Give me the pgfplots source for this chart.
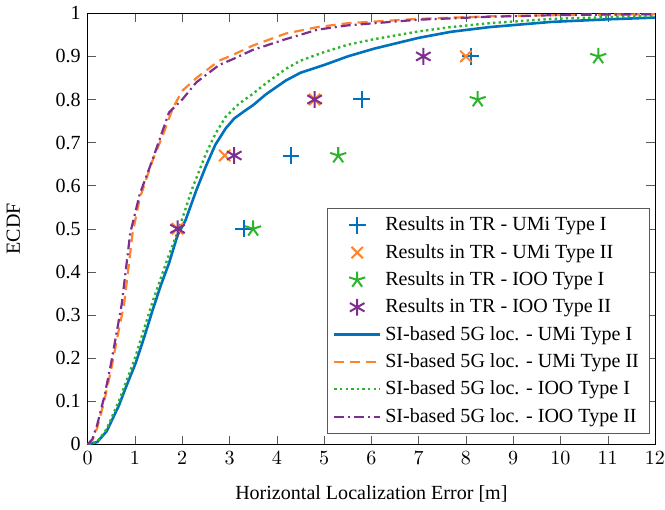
\documentclass[border=0pt]{standalone}
\usepackage{fontspec}
\setmainfont{Liberation Serif}
\usepackage{pgfplots}
\pgfplotsset{compat=1.18}

\definecolor{cblue}{RGB}{0,114,189}
\definecolor{corange}{RGB}{255,130,45}
\definecolor{cgreen}{RGB}{45,180,45}
\definecolor{cpurple}{RGB}{126,47,142}

\begin{document}
\begin{tikzpicture}
\begin{axis}[
  width=283pt, height=215pt, scale only axis,
  xmin=0, xmax=12, ymin=0, ymax=1,
  xtick={0,1,...,12},
  ytick={0,0.1,0.2,0.3,0.4,0.5,0.6,0.7,0.8,0.9,1},
  yticklabels={0,0.1,0.2,0.3,0.4,0.5,0.6,0.7,0.8,0.9,1},
  xticklabel style={inner xsep=0pt},
  tick style={gray!70!black},
  xlabel={Horizontal Localization Error [m]},
  ylabel={ECDF},
  xlabel shift=4pt,
  ylabel shift=10.8pt,
  legend cell align=left,
  legend style={at={(0.99,0.025)}, anchor=south east, draw=gray!70!black, row sep=1.2pt},
  legend image code/.code={\draw[mark repeat=2,mark phase=2] plot coordinates {(0cm,0cm)(0.4cm,0cm)(0.8cm,0cm)};},
  every axis plot/.append style={line width=1pt},
]
% TR results
\addplot[only marks, mark=+, mark size=4.2pt, cblue] coordinates {(3.3,0.5) (4.3,0.67) (5.8,0.8) (8.1,0.9)};
\addplot[only marks, mark=x, mark size=4pt, corange] coordinates {(1.9,0.5) (2.9,0.67) (4.8,0.8) (8.0,0.9)};
\addplot[only marks, mark=star, mark size=4.2pt, cgreen] coordinates {(3.5,0.5) (5.3,0.67) (8.25,0.8) (10.8,0.9)};
\addplot[only marks, mark=asterisk, mark size=4.2pt, cpurple] coordinates {(1.9,0.5) (3.1,0.67) (4.8,0.8) (7.1,0.9)};
% SI-based curves
\addplot[cblue, solid, line width=1.3pt] coordinates {
(0,0) (0.2,0.005) (0.4,0.03) (0.66,0.09) (0.8,0.13) (1.02,0.19) (1.2,0.25)
(1.37,0.31) (1.55,0.37) (1.72,0.42) (1.9,0.485) (2.07,0.52) (2.3,0.59) (2.5,0.645)
(2.7,0.695) (2.92,0.733) (3.1,0.756) (3.34,0.775) (3.5,0.787) (3.77,0.812) (4.19,0.844)
(4.5,0.862) (5.0,0.88) (5.5,0.90) (6.06,0.918) (7.0,0.943) (7.68,0.957) (8.5,0.968)
(9.8,0.98) (11,0.986) (12,0.99)};
\addplot[corange, dash pattern=on 5pt off 3pt, line width=1.1pt] coordinates {
(0,0) (0.1,0.01) (0.2,0.038) (0.35,0.10) (0.49,0.17) (0.63,0.25) (0.77,0.325)
(0.95,0.49) (1.1,0.57) (1.37,0.658) (1.6,0.72) (1.8,0.78) (2.0,0.82) (2.3,0.85)
(2.78,0.89) (3.1,0.905) (3.49,0.925) (4.19,0.953) (4.86,0.968) (5.5,0.977)
(6.98,0.987) (8.5,0.993) (10,0.996) (12,0.998)};
\addplot[cgreen, dash pattern=on 1.2pt off 1.6pt, line width=1.2pt] coordinates {
(0,0) (0.2,0.006) (0.4,0.035) (0.66,0.10) (1.0,0.20) (1.37,0.33) (1.72,0.44)
(1.93,0.5) (2.2,0.59) (2.5,0.674) (2.7,0.72) (2.92,0.76) (3.2,0.79) (3.49,0.813)
(3.8,0.84) (4.19,0.871) (4.5,0.89) (5.0,0.91) (5.5,0.927) (6.06,0.94) (7.0,0.958)
(7.68,0.968) (8.5,0.977) (9.8,0.987) (11,0.991) (12,0.994)};
\addplot[cpurple, dash pattern=on 5pt off 2pt on 1pt off 2pt, line width=1.1pt] coordinates {
(0,0) (0.1,0.012) (0.2,0.045) (0.35,0.11) (0.49,0.185) (0.72,0.325) (0.9,0.49)
(1.1,0.58) (1.37,0.66) (1.72,0.77) (2.0,0.80) (2.3,0.84) (2.78,0.88) (3.1,0.895)
(3.49,0.915) (4.19,0.94) (4.86,0.962) (5.5,0.972) (6.98,0.985) (8.5,0.992)
(10,0.996) (12,0.998)};
\legend{Results in TR - UMi Type I, Results in TR - UMi Type II, Results in TR - IOO Type I, Results in TR - IOO Type II,
SI-based 5G loc. - UMi Type I, SI-based 5G loc. - UMi Type II, SI-based 5G loc. - IOO Type I, SI-based 5G loc. - IOO Type II}
\end{axis}
\end{tikzpicture}
\end{document}
